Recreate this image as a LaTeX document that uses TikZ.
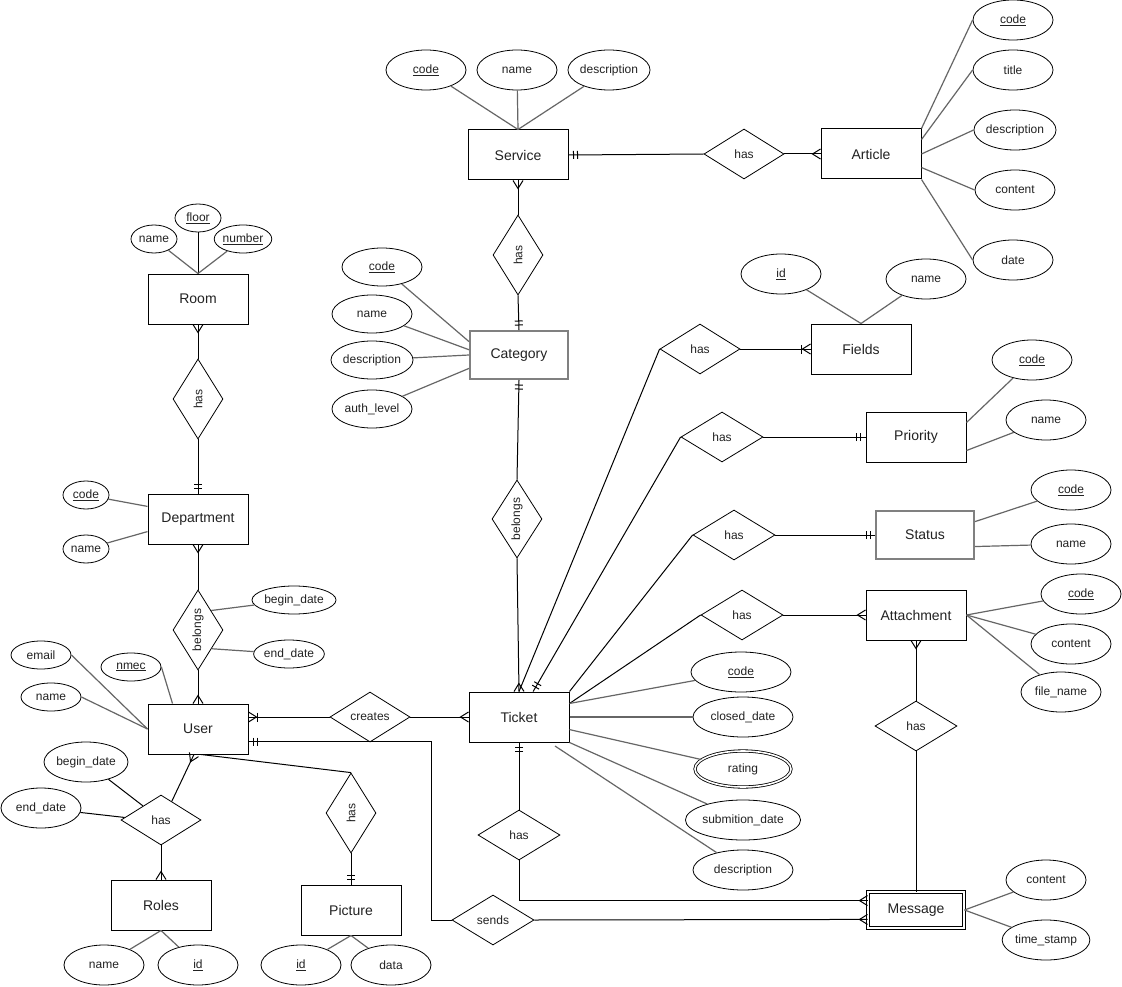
\documentclass[tikz,border=0pt]{standalone}
\usepackage{fontspec}
\setmainfont{Liberation Sans}
\usepackage{tikz}
\usetikzlibrary{shapes.geometric, decorations.markings}
\definecolor{erInk}{HTML}{222222}
\definecolor{erLine}{HTML}{666666}
\definecolor{erGrey}{HTML}{808080}
\tikzset{
  entity/.style={draw=black, fill=white, line width=1pt, minimum width=100pt, minimum height=50pt,
    inner sep=0pt, text=erInk, font=\fontsize{14}{16}\selectfont},
  entgrey/.style={entity, draw=erGrey, line width=2pt, minimum width=98pt, minimum height=48pt},
  weakent/.style={entity, double, double distance=2pt, minimum width=96pt, minimum height=36pt},
  attr/.style={draw=black, fill=white, ellipse, line width=0.8pt, minimum width=80pt, minimum height=40pt,
    inner sep=0pt, text=erInk, font=\fontsize{12}{14}\selectfont},
  sattr/.style={attr, minimum width=46pt, minimum height=28pt},
  mattr/.style={attr, double, double distance=1.6pt, minimum width=96pt, minimum height=36pt},
  rel/.style={draw=black, fill=white, diamond, aspect=1.6, line width=0.8pt, minimum width=80pt,
    minimum height=50pt, inner sep=0pt, text=erInk, font=\fontsize{12}{14}\selectfont},
  vrel/.style={rel, aspect=0.625, minimum width=50pt, minimum height=80pt},
  link/.style={draw=black, line width=1pt},
  attrline/.style={draw=erLine, line width=1.2pt},
  mandone/.style={postaction={decorate, decoration={markings, mark=at position 1 with {
      \draw[solid, line width=1pt] (-5pt,-4pt) -- (-5pt,4pt) (-9pt,-4pt) -- (-9pt,4pt);}}}},
  crowmany/.style={postaction={decorate, decoration={markings, mark=at position 1 with {
      \draw[solid, line width=1pt] (0pt,-5pt) -- (-8pt,0pt) -- (0pt,5pt);}}}},
  onemany/.style={crowmany, postaction={decorate, decoration={markings, mark=at position 1 with {
      \draw[solid, line width=1pt] (-9pt,-4.5pt) -- (-9pt,4.5pt);}}}},
}

\begin{document}
\begin{tikzpicture}[x=1pt, y=-1pt]
  \useasboundingbox[fill=white] (0,0) rectangle (1122,987);
  % entities
  \node[entity] (svc) at (518,155) {Service};
  \node[entity] (art) at (871,154) {Article};
  \node[entity] (room) at (198,299) {Room};
  \node[entgrey] (cat) at (519,355) {Category};
  \node[entity] (fld) at (861,349) {Fields};
  \node[entity] (prio) at (916,437) {Priority};
  \node[entgrey] (stat) at (925,535) {Status};
  \node[entity] (att) at (916,615) {Attachment};
  \node[entity] (dep) at (198,519) {Department};
  \node[entity] (usr) at (198,729) {User};
  \node[entity] (tk) at (519,717) {Ticket};
  \node[entity] (role) at (161,905) {Roles};
  \node[entity] (pic) at (351,910) {Picture};
  \node[weakent] (msg) at (916,910) {Message};
  % relationships
  \node[rel] (hasArt) at (744,154) {has};
  \node[vrel] (hasCat) at (518,255) {\rotatebox{90}{has}};
  \node[vrel] (hasRoom) at (198,399) {\rotatebox{90}{has}};
  \node[vrel, minimum height=78pt] (belCat) at (517,519) {\rotatebox{90}{belongs}};
  \node[rel] (hasFld) at (700,349) {has};
  \node[rel, minimum width=82pt] (hasPrio) at (722,437) {has};
  \node[rel, minimum width=82pt] (hasStat) at (734,535) {has};
  \node[rel, minimum width=82pt] (hasAtt) at (742,615) {has};
  \node[vrel] (belDep) at (198,630) {\rotatebox{90}{belongs}};
  \node[rel] (creates) at (370,717) {creates};
  \node[rel] (hasRole) at (161,820) {has};
  \node[vrel] (hasPic) at (351,813) {\rotatebox{90}{has}};
  \node[rel, minimum width=82pt] (hasMsg) at (519,835) {has};
  \node[rel, minimum width=82pt] (sends) at (493,920) {sends};
  \node[rel, minimum width=82pt] (hasAM) at (916,726) {has};
  % attributes
  \node[attr] (scode) at (426,70) {\underline{code}};
  \node[attr] (sname) at (517,70) {name};
  \node[attr] (sdesc) at (609,70) {description};
  \node[attr] (acode) at (1013,20) {\underline{code}};
  \node[attr] (atitle) at (1013,70) {title};
  \node[attr] (adesc) at (1015,130) {description};
  \node[attr] (acont) at (1015,190) {content};
  \node[attr] (adate) at (1013,260) {date};
  \node[sattr] (rname) at (154,239) {name};
  \node[sattr] (rfloor) at (198,218) {\underline{floor}};
  \node[sattr] (rnum) at (243,239) {\underline{number}};
  \node[attr, minimum height=38pt] (ccode) at (382,267) {\underline{code}};
  \node[attr, minimum height=38pt] (cname) at (372,314) {name};
  \node[attr, minimum height=38pt] (cdesc) at (372,360) {description};
  \node[attr, minimum height=38pt] (cauth) at (372,409) {auth\_level};
  \node[attr] (fid) at (781,274) {\underline{id}};
  \node[attr] (fname) at (926,279) {name};
  \node[attr] (pcode) at (1032,360) {\underline{code}};
  \node[attr] (pname) at (1046,420) {name};
  \node[attr] (stcode) at (1071,490) {\underline{code}};
  \node[attr] (stname) at (1071,544) {name};
  \node[attr] (atcode) at (1081,594) {\underline{code}};
  \node[attr] (atcont) at (1071,644) {content};
  \node[attr] (atfile) at (1061,692) {file\_name};
  \node[sattr] (dcode) at (86,495) {\underline{code}};
  \node[sattr] (dname) at (86,549) {name};
  \node[sattr, minimum width=75pt] (bdbeg) at (294,600) {begin\_date};
  \node[sattr, minimum width=65pt] (bdend) at (289,654) {end\_date};
  \node[sattr, minimum width=60pt] (email) at (41,655) {email};
  \node[sattr, minimum width=60pt] (uname) at (51,697) {name};
  \node[sattr, minimum width=60pt] (nmec) at (131,667) {\underline{nmec}};
  \node[attr] (rbeg) at (86,762) {begin\_date};
  \node[attr] (rend) at (41,808) {end\_date};
  \node[attr] (rlname) at (104,965) {name};
  \node[attr] (rlid) at (198,965) {\underline{id}};
  \node[attr] (pid) at (301,965) {\underline{id}};
  \node[attr] (pdata) at (391,965) {data};
  \node[attr, minimum width=100pt] (tcode) at (741,672) {\underline{code}};
  \node[attr, minimum width=100pt] (tclosed) at (743,717) {closed\_date};
  \node[mattr] (trate) at (743,769) {rating};
  \node[attr, minimum width=100pt] (tsub) at (743,820) {submition\_date};
  \node[attr, minimum width=100pt] (tdesc) at (743,870) {description};
  \node[attr] (mcont) at (1046,880) {content};
  \node[attr] (mts) at (1046,940) {time\_stamp};
  \coordinate (tkdesc) at (555,746);

  % relationship links
  \draw[link, mandone] (hasArt.west) -- (svc.east);
  \draw[link, crowmany] (hasArt.east) -- (art.west);
  \draw[link, crowmany] (hasCat.north) -- (svc.south);
  \draw[link, mandone] (hasCat.south) -- (cat.north);
  \draw[link, mandone] (belCat.north) -- (cat.south);
  \draw[link, crowmany] (belCat.south) -- (tk.north);
  \draw[link, crowmany] (hasRoom.north) -- (room.south);
  \draw[link, mandone] (hasRoom.south) -- (dep.north);
  \draw[link, crowmany] (belDep.north) -- (dep.south);
  \draw[link, crowmany] (belDep.south) -- (usr.north);
  \draw[link, onemany] (creates.west) -- (creates.west -| usr.east);
  \draw[link, crowmany] (creates.east) -- (tk.west);
  \draw[link, crowmany] (hasRole.60) -- (usr.261);
  \draw[link, crowmany] (hasRole.south) -- (role.north);
  \draw[link] (hasPic.north) -- (usr.277);
  \draw[link, mandone] (hasPic.south) -- (pic.north);
  \draw[link] (tk.north) -- (hasFld.west);
  \draw[link, onemany] (hasFld.east) -- (fld.west);
  \draw[link, mandone] (hasPrio.west) -- (tk.61);
  \draw[link, mandone] (hasPrio.east) -- (prio.west);
  \draw[link] (tk.north east) -- (hasStat.west);
  \draw[link, mandone] (hasStat.east) -- (stat.west);
  \draw[link] (tk.15) -- (hasAtt.west);
  \draw[link, crowmany] (hasAtt.east) -- (att.west);
  \draw[link, mandone] (hasMsg.north) -- (tk.south);
  \draw[link, crowmany] (hasMsg.south) |- (msg.169);
  \draw[link, mandone] (sends.west) -- ++(-20,0) |- (usr.346);
  \draw[link, crowmany] (sends.east) -- (msg.191);
  \draw[link, crowmany] (hasAM.north) -- (att.south);
  \draw[link] (hasAM.south) -- (msg.north);

  % attribute links
  \draw[attrline] (scode) -- (svc.north);
  \draw[attrline] (sname) -- (svc.north);
  \draw[attrline] (sdesc) -- (svc.north);
  \draw[attrline] (art.north east) -- (acode.west);
  \draw[attrline] (art.16) -- (atitle.west);
  \draw[attrline] (art.east) -- (adesc.west);
  \draw[attrline] (art.345) -- (acont.west);
  \draw[attrline] (art.south east) -- (adate.west);
  \draw[attrline] (rname) -- (room.north);
  \draw[link] (rfloor) -- (room.north);
  \draw[attrline] (rnum) -- (room.north);
  \draw[attrline] (ccode) -- (cat.165);
  \draw[attrline] (cname) -- (cat.174);
  \draw[attrline] (cdesc) -- (cat.west);
  \draw[attrline] (cauth) -- (cat.195);
  \draw[attrline] (fid) -- (fld.north);
  \draw[attrline] (fname) -- (fld.north);
  \draw[attrline] (prio.16) -- (pcode);
  \draw[attrline] (prio.345) -- (pname);
  \draw[attrline] (stat.15) -- (stcode);
  \draw[attrline] (stat.347) -- (stname);
  \draw[attrline] (att.east) -- (atcode);
  \draw[attrline] (att.east) -- (atcont);
  \draw[attrline] (att.east) -- (atfile);
  \draw[attrline] (dcode) -- (dep.166);
  \draw[attrline] (dname) -- (dep.194);
  \draw[attrline] (belDep.56) -- (bdbeg);
  \draw[attrline] (belDep.306) -- (bdend);
  \draw[attrline] (email.east) -- (usr.west);
  \draw[attrline] (uname.east) -- (usr.west);
  \draw[attrline] (nmec.east) -- (usr.135);
  \draw[link] (rbeg) -- (hasRole.142);
  \draw[link] (rend) -- (hasRole.176);
  \draw[attrline] (rlname) -- (role.south);
  \draw[attrline] (rlid) -- (role.south);
  \draw[attrline] (pid) -- (pic.south);
  \draw[attrline] (pdata) -- (pic.south);
  \draw[attrline] (tk.15) -- (tcode);
  \draw[attrline] (tk.east) -- (tclosed);
  \draw[attrline] (tk.346) -- (trate);
  \draw[attrline] (tk.south east) -- (tsub);
  \draw[attrline] (tkdesc) -- (tdesc);
  \draw[attrline] (msg.east) -- (mcont);
  \draw[attrline] (msg.east) -- (mts);
\end{tikzpicture}
\end{document}
